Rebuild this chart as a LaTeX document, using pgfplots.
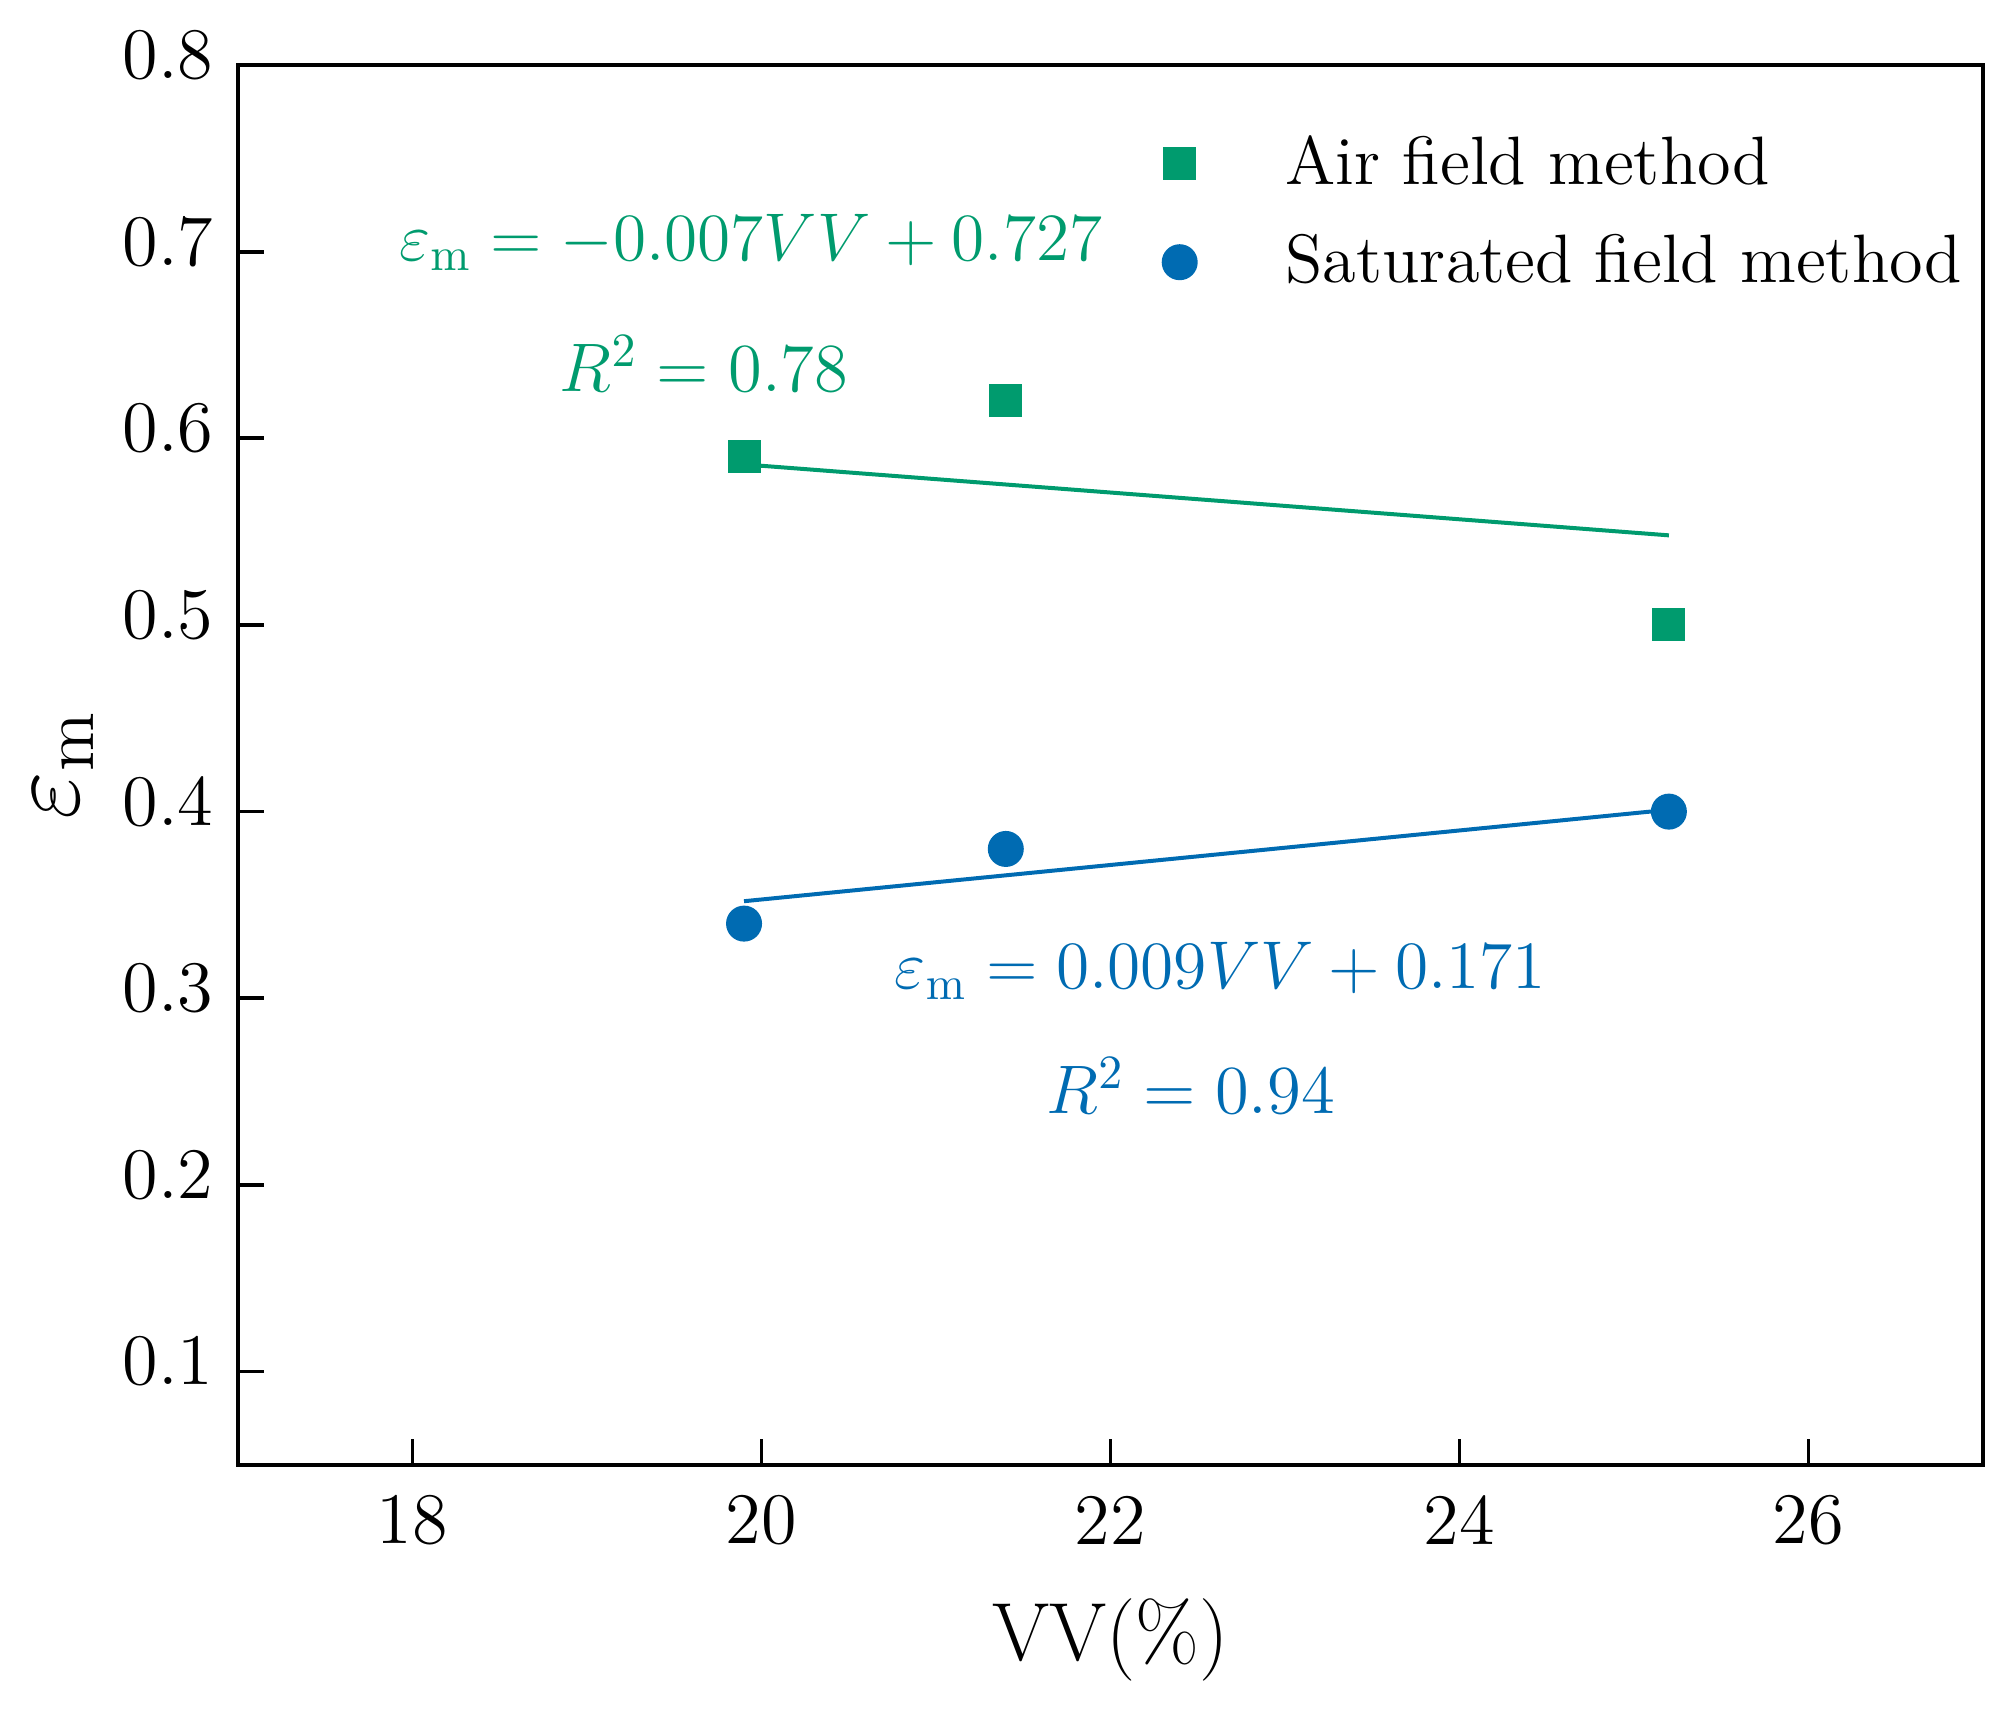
\documentclass[border=0pt]{standalone}
\usepackage{pgfplots}
\pgfplotsset{compat=1.18}
\definecolor{cgreen}{RGB}{0,155,110}
\definecolor{cblue}{RGB}{0,107,178}
\pgfplotsset{
  mylegimg/.style={legend image code/.code={\path (0pt,0pt) (27pt,0pt); \draw[mark repeat=2,mark phase=2,##1] plot coordinates {(0pt,0pt) (8pt,0pt) (16pt,0pt)};}}
}
\pgfplotstableread{
x y
19.9 0.59
21.4 0.62
25.2 0.50
}\airdata
\pgfplotstableread{
x y
19.9 0.34
21.4 0.38
25.2 0.40
}\satdata
\begin{document}
\begin{tikzpicture}
\begin{axis}[
  scale only axis,
  width=349pt, height=280pt,
  xmin=17, xmax=27, ymin=0.05, ymax=0.8,
  xtick={18,20,22,24,26},
  ytick={0.1,0.2,0.3,0.4,0.5,0.6,0.7,0.8},
  yticklabels={0.1,0.2,0.3,0.4,0.5,0.6,0.7,0.8},
  xticklabels={18,20,22,24,26},
  xtick pos=bottom, ytick pos=left,
  tick align=inside,
  major tick length=5.2pt,
  axis line style={line width=0.75pt},
  every tick/.style={black, line width=0.75pt},
  yticklabel style={font=\fontsize{14.5}{17}\selectfont, anchor=east, xshift=-1.4pt, yshift=2pt},
  xticklabel style={font=\fontsize{14.5}{17}\selectfont, anchor=center, yshift=-11pt},
  xlabel={VV(\%)},
  xlabel style={font=\fontsize{16.5}{19}\selectfont, at={(axis description cs:0.5,0)}, anchor=center, yshift=-35pt},
  ylabel={$\varepsilon_{\mathrm{m}}$},
  ylabel style={font=\fontsize{21}{24}\selectfont, at={(axis description cs:-0.100,0.5)}, anchor=center},
  clip=false,
  mylegimg,
  legend cell align=left,
  legend style={at={(axis cs:22.07,0.7735)}, anchor=north west, draw=none, fill=none,
    font=\fontsize{13.7}{16}\selectfont, row sep=4.5pt, inner xsep=3pt, inner ysep=2pt},
]
\addplot[cgreen, line width=0.8pt, forget plot] coordinates {(19.9,0.586) (25.2,0.548)};
\addplot[cblue, line width=0.8pt, forget plot] coordinates {(19.9,0.352) (25.2,0.401)};
\addplot[only marks, mark=square*, mark size=3.1pt, cgreen, mark options={fill=cgreen, draw=cgreen}]
  table[x=x,y=y] {\airdata};
\addlegendentry{Air field method}
\addplot[only marks, mark=*, mark size=3.4pt, cblue, mark options={fill=cblue, draw=cblue}]
  table[x=x,y=y] {\satdata};
\addlegendentry{Saturated field method}
\node[cgreen, font=\fontsize{14}{16}\selectfont] at (axis cs:19.94,0.705) {\scalebox{0.938}{$\varepsilon_{\mathrm{m}} = -0.007VV + 0.727$}};
\node[cgreen, font=\fontsize{14}{16}\selectfont] at (axis cs:19.67,0.640) {\scalebox{0.955}{$R^2 = 0.78$}};
\node[cblue, font=\fontsize{14}{16}\selectfont] at (axis cs:22.63,0.3147) {\scalebox{0.939}{$\varepsilon_{\mathrm{m}} = 0.009VV + 0.171$}};
\node[cblue, font=\fontsize{14}{16}\selectfont] at (axis cs:22.46,0.2534) {\scalebox{0.955}{$R^2 = 0.94$}};
\coordinate (sw) at (axis description cs:0,0);
\coordinate (ne) at (axis description cs:1,1);
\end{axis}
\path (sw) ++(-47.6pt,-49.1pt) (ne) ++(3pt,13pt);
\end{tikzpicture}
\end{document}
